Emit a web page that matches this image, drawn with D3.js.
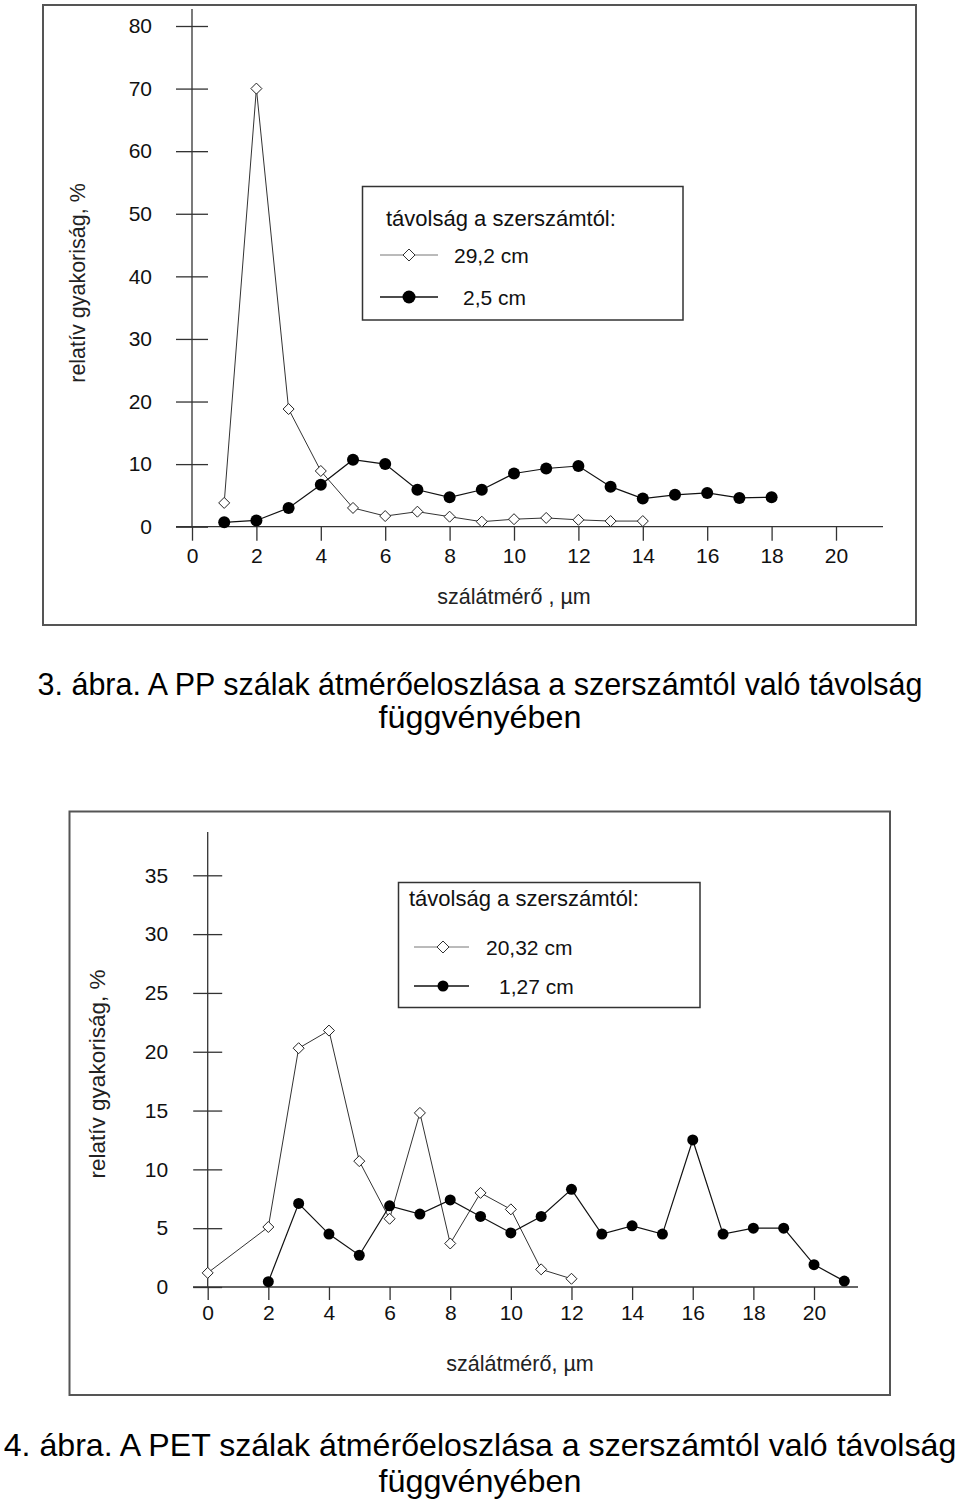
<!DOCTYPE html>
<html><head><meta charset="utf-8">
<script src="https://cdn.jsdelivr.net/npm/d3@7"></script>
<style>
html,body{margin:0;padding:0;background:#fff;}
svg{display:block;font-family:"Liberation Sans",Arial,sans-serif;}
</style></head>
<body>
<script>
// ---------- DATA ----------
// Figure 3 (PP)
const ppX_29 = [1,2,3,4,5,6,7,8,9,10,11,12,13,14];
const ppY_29 = [3.8,70,18.8,8.9,3.0,1.7,2.4,1.6,0.8,1.2,1.4,1.1,0.9,0.9];
const ppX_25 = [1,2,3,4,5,6,7,8,9,10,11,12,13,14,15,16,17,18];
const ppY_25 = [0.7,1.0,3.0,6.7,10.7,10.0,5.9,4.7,5.9,8.5,9.3,9.7,6.4,4.5,5.1,5.4,4.6,4.7];
const ppXTicks = [0,2,4,6,8,10,12,14,16,18,20];
const ppYTicks = [0,10,20,30,40,50,60,70,80];
const ppLegend = ["29,2 cm","2,5 cm"];
// Figure 4 (PET)
const petX_20 = [0,2,3,4,5,6,7,8,9,10,11,12];
const petY_20 = [1.2,5.1,20.3,21.8,10.7,5.8,14.8,3.7,8.0,6.6,1.5,0.7];
const petX_127 = [2,3,4,5,6,7,8,9,10,11,12,13,14,15,16,17,18,19,20,21];
const petY_127 = [0.45,7.1,4.5,2.7,6.9,6.2,7.4,6.0,4.6,6.0,8.3,4.5,5.2,4.5,12.5,4.5,5.0,5.0,1.9,0.5];
const petXTicks = [0,2,4,6,8,10,12,14,16,18,20];
const petYTicks = [0,5,10,15,20,25,30,35];
const petLegend = ["20,32 cm","1,27 cm"];
const legendTitle = "távolság a szerszámtól:";
const yTitle = "relatív gyakoriság, %";
const xTitlePP = "szálátmérő , µm";
const xTitlePET = "szálátmérő, µm";
const caption3 = ["3. ábra. A PP szálak átmérőeloszlása a szerszámtól való távolság","függvényében"];
const caption4 = ["4. ábra. A PET szálak átmérőeloszlása a szerszámtól való távolság","függvényében"];

// ---------- DRAW ----------
const svg = d3.select("body").append("svg").attr("width",960).attr("height",1511);

const diamond = {draw(ctx,size){const r=Math.sqrt(size)/2;ctx.moveTo(0,-r);ctx.lineTo(r,0);ctx.lineTo(0,r);ctx.lineTo(-r,0);ctx.closePath();}};

function chart(cfg){
  const g = svg.append("g");
  g.append("rect").attr("x",cfg.frame[0]).attr("y",cfg.frame[1])
    .attr("width",cfg.frame[2]-cfg.frame[0]).attr("height",cfg.frame[3]-cfg.frame[1])
    .attr("fill","none").attr("stroke","#555").attr("stroke-width",2);
  const x = d3.scaleLinear().domain([0,20]).range([cfg.x0,cfg.x20]);
  const y = d3.scaleLinear().domain([0,cfg.ymax]).range([cfg.y0,cfg.yTop]);

  const ya = g.append("g").attr("transform",`translate(${cfg.x0},0)`)
    .call(d3.axisLeft(y).tickValues(cfg.yTicks).tickSizeInner(cfg.ytick).tickSizeOuter(0).tickPadding(cfg.ypad));
  ya.select(".domain").remove();
  ya.selectAll(".tick line").attr("x1",-cfg.ytick).attr("x2",cfg.ytick).attr("stroke","#333").attr("stroke-width",1.3);
  ya.selectAll(".tick text").attr("font-size",21).attr("fill","#111").attr("font-family","Liberation Sans, Arial, sans-serif");
  g.append("line").attr("x1",cfg.x0).attr("x2",cfg.x0).attr("y1",cfg.axisTop).attr("y2",cfg.y0)
    .attr("stroke","#333").attr("stroke-width",1.3);

  const xa = g.append("g").attr("transform",`translate(0,${cfg.y0})`)
    .call(d3.axisBottom(x).tickValues(cfg.xTicks).tickSizeInner(cfg.xtick).tickSizeOuter(0).tickPadding(cfg.xpad));
  xa.select(".domain").remove();
  xa.selectAll(".tick line").attr("stroke","#333").attr("stroke-width",1.3);
  xa.selectAll(".tick text").attr("font-size",21).attr("fill","#111").attr("font-family","Liberation Sans, Arial, sans-serif");
  g.append("line").attr("x1",cfg.xAxisL).attr("x2",cfg.xAxisR).attr("y1",cfg.y0).attr("y2",cfg.y0)
    .attr("stroke","#333").attr("stroke-width",1.3);

  g.append("text").attr("transform",`translate(${cfg.yTitlePos[0]},${cfg.yTitlePos[1]}) rotate(-90)`)
    .attr("text-anchor","middle").attr("dominant-baseline","central").attr("font-size",cfg.yTitleSize).attr("fill","#222").text(yTitle);
  g.append("text").attr("x",cfg.xTitlePos[0]).attr("y",cfg.xTitlePos[1])
    .attr("text-anchor","middle").attr("dominant-baseline","central").attr("font-size",21.5).attr("fill","#222").text(cfg.xTitle);

  const line = d3.line().x(d=>x(d[0])).y(d=>y(d[1]));
  const s1 = cfg.xs1.map((v,i)=>[v,cfg.ys1[i]]);
  const s2 = cfg.xs2.map((v,i)=>[v,cfg.ys2[i]]);
  g.append("path").attr("d",line(s1)).attr("fill","none").attr("stroke","#333").attr("stroke-width",1);
  g.append("path").attr("d",line(s2)).attr("fill","none").attr("stroke","#111").attr("stroke-width",1.2);
  g.selectAll(".dm").data(s1).enter().append("path")
    .attr("transform",d=>`translate(${x(d[0])},${y(d[1])})`)
    .attr("d",d3.symbol().type(diamond).size(cfg.dsize*cfg.dsize))
    .attr("fill","#fff").attr("stroke","#222").attr("stroke-width",1);
  g.selectAll(".ci").data(s2).enter().append("circle")
    .attr("cx",d=>x(d[0])).attr("cy",d=>y(d[1])).attr("r",cfg.cr).attr("fill","#000");

  const L = cfg.legend;
  g.append("rect").attr("x",L.box[0]).attr("y",L.box[1]).attr("width",L.box[2]-L.box[0]).attr("height",L.box[3]-L.box[1])
    .attr("fill","#fff").attr("stroke","#333").attr("stroke-width",1.5);
  g.append("text").attr("x",L.titleX).attr("y",L.titleY).attr("dominant-baseline","central")
    .attr("font-size",22).attr("fill","#111").text(legendTitle);
  g.append("line").attr("x1",L.lx1).attr("x2",L.lx2).attr("y1",L.r1).attr("y2",L.r1).attr("stroke","#777").attr("stroke-width",1);
  g.append("path").attr("transform",`translate(${L.mx},${L.r1})`).attr("d",d3.symbol().type(diamond).size(L.ds*L.ds))
    .attr("fill","#fff").attr("stroke","#333").attr("stroke-width",1);
  g.append("text").attr("x",L.t1x).attr("y",L.r1).attr("dominant-baseline","central").attr("font-size",21).attr("fill","#111").text(cfg.legendLabels[0]);
  g.append("line").attr("x1",L.lx1).attr("x2",L.lx2).attr("y1",L.r2).attr("y2",L.r2).attr("stroke","#111").attr("stroke-width",1.5);
  g.append("circle").attr("cx",L.mx).attr("cy",L.r2).attr("r",L.cr).attr("fill","#000");
  g.append("text").attr("x",L.t2x).attr("y",L.r2).attr("dominant-baseline","central").attr("font-size",21).attr("fill","#111").text(cfg.legendLabels[1]);
}

chart({
  frame:[43,5,916,625],
  x0:192, x20:836, y0:526.7, yTop:26, ymax:80, axisTop:9,
  xAxisL:176, xAxisR:883,
  yTicks:ppYTicks, xTicks:ppXTicks, ytick:16, ypad:24, xtick:14, xpad:7,
  yTitlePos:[78,283], yTitleSize:21.5, xTitlePos:[514,597], xTitle:xTitlePP,
  xs1:ppX_29, ys1:ppY_29, xs2:ppX_25, ys2:ppY_25, dsize:11, cr:6,
  legendLabels:ppLegend,
  legend:{box:[362.5,186.5,683,320], titleX:386, titleY:218, lx1:380, lx2:438, mx:409, r1:255, r2:297, t1x:454, t2x:463, ds:12, cr:6.5}
});

chart({
  frame:[69.5,811.5,890,1395],
  x0:207.7, x20:814, y0:1287, yTop:875.3, ymax:35, axisTop:832,
  xAxisL:193, xAxisR:858,
  yTicks:petYTicks, xTicks:petXTicks, ytick:14.5, ypad:25, xtick:13, xpad:5,
  yTitlePos:[97,1074], yTitleSize:22.5, xTitlePos:[520,1364], xTitle:xTitlePET,
  xs1:petX_20, ys1:petY_20, xs2:petX_127, ys2:petY_127, dsize:11, cr:5.5,
  legendLabels:petLegend,
  legend:{box:[398.5,882.5,700,1007.5], titleX:409, titleY:898, lx1:414, lx2:469, mx:443, r1:947, r2:986, t1x:486, t2x:499, ds:12, cr:5.5}
});

// captions: fit width by font size, then stretch vertically to reference glyph height
function capLine(txt, y, targetW, refSize){
  const t = svg.append("text").attr("text-anchor","middle").attr("font-size",refSize).attr("fill","#000").text(txt);
  const w = t.node().getComputedTextLength();
  const fs = refSize * targetW / w;
  t.attr("font-size",fs).attr("transform",`translate(480,${y}) scale(1,${refSize/fs})`);
}
capLine(caption3[0], 695, 885, 32);
capLine(caption3[1], 728, 203, 32);
capLine(caption4[0], 1456, 953, 32);
capLine(caption4[1], 1492, 203, 32);
</script>
</body></html>
